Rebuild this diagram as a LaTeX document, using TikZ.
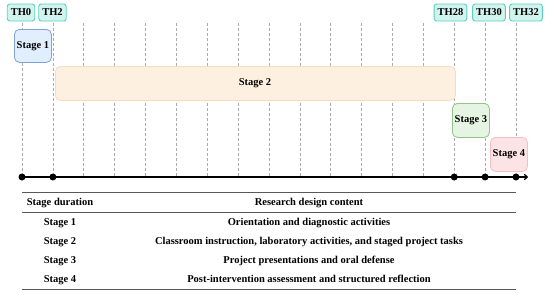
\documentclass[tikz,border=0pt]{standalone}
\usepackage{fontspec}
\setmainfont{Liberation Serif}
\usetikzlibrary{arrows.meta}
\definecolor{thfill}{HTML}{D2F4EF}
\definecolor{thdraw}{HTML}{5CCFBF}
\definecolor{s1fill}{HTML}{E1EEFD}
\definecolor{s1draw}{HTML}{7FA3D6}
\definecolor{s2fill}{HTML}{FDF0E1}
\definecolor{s2draw}{HTML}{F6DDC0}
\definecolor{s3fill}{HTML}{E6F4E3}
\definecolor{s3draw}{HTML}{93C48A}
\definecolor{s4fill}{HTML}{FCE3E5}
\definecolor{s4draw}{HTML}{F2BFC3}
\newcommand{\myfont}{\fontsize{10.5}{12}\selectfont\bfseries}
\tikzset{
  thlabel/.style={draw=thdraw, fill=thfill, line width=0.9pt, rounded corners=2.5pt,
    font=\myfont, minimum height=17pt, inner xsep=3.5pt, inner ysep=0pt},
  stagebox/.style={rounded corners=5pt, line width=0.8pt,
    anchor=north west, inner sep=0pt},
  boxtext/.style={font=\myfont},
  grid/.style={gray!65, line width=0.6pt, dash pattern=on 2.5pt off 2.5pt},
  dot/.style={circle, fill=black, inner sep=0pt, minimum size=7pt},
  rulestyle/.style={gray!70!black, line width=0.9pt},
  cell/.style={font=\myfont, anchor=base, inner sep=0pt}
}
\begin{document}
\begin{tikzpicture}[x=1pt,y=-1pt]
\useasboundingbox (0,0) rectangle (550,295);
% grid lines
\foreach \k in {0,...,16} {
  \coordinate (g\k) at ({22+30.875*\k},177);
  \coordinate (gt\k) at ({22+30.875*\k},23);
  \draw[grid] (gt\k) -- (g\k);
}
% stage boxes
\node[stagebox, draw=s1draw, fill=s1fill, minimum width=37pt, minimum height=33pt] (s1) at (14,29) {};
\node[boxtext] (s1t) at (s1.center) {Stage 1};
\node[stagebox, draw=s2draw, fill=s2fill, minimum width=400pt, minimum height=34pt] (s2) at (55,66) {};
\node[boxtext] (s2t) at (255,83) {Stage 2};
\node[stagebox, draw=s3draw, fill=s3fill, minimum width=37pt, minimum height=34pt] (s3) at (452,103) {};
\node[boxtext] (s3t) at (s3.center) {Stage 3};
\node[stagebox, draw=s4draw, fill=s4fill, minimum width=37pt, minimum height=34pt] (s4) at (490,137) {};
\node[boxtext] (s4t) at (s4.center) {Stage 4};
% TH labels
\node[thlabel] (th0) at (21,12.5) {TH0};
\node[thlabel] (th2) at (52.5,12.5) {TH2};
\node[thlabel] (th28) at (450.5,12.5) {TH28};
\node[thlabel] (th30) at (489,12.5) {TH30};
\node[thlabel] (th32) at (526,12.5) {TH32};
% axis
\coordinate (axend) at (528,177);
\draw[line width=1.2pt, -{To[length=4pt,width=6pt]}] (g0) -- (axend);
\foreach \k in {0,1,14,15,16} \node[dot] (d\k) at (g\k) {};
% table
\coordinate (r1l) at (22,192); \coordinate (r1r) at (516,192);
\coordinate (r2l) at (22,212); \coordinate (r2r) at (516,212);
\coordinate (r3l) at (22,289); \coordinate (r3r) at (516,289);
\draw[rulestyle] (r1l) -- (r1r);
\draw[rulestyle] (r2l) -- (r2r);
\draw[rulestyle] (r3l) -- (r3r);
\node[cell] (h1) at (60,205) {Stage duration};
\node[cell] (h2) at (309,205) {Research design content};
\node[cell] (a1) at (60,225) {Stage 1};
\node[cell] (b1) at (309,225) {Orientation and diagnostic activities};
\node[cell] (a2) at (60,244) {Stage 2};
\node[cell] (b2) at (309,244) {Classroom instruction, laboratory activities, and staged project tasks};
\node[cell] (a3) at (60,263) {Stage 3};
\node[cell] (b3) at (309,263) {Project presentations and oral defense};
\node[cell] (a4) at (60,282) {Stage 4};
\node[cell] (b4) at (309,282) {Post-intervention assessment and structured reflection};
\end{tikzpicture}
\end{document}
